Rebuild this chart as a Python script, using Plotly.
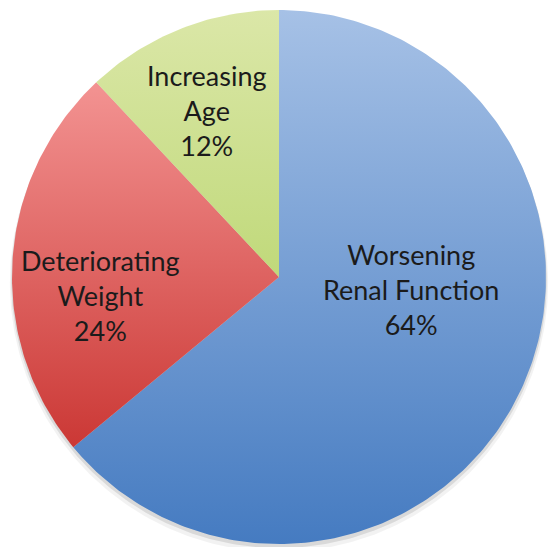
import numpy as np
import plotly.graph_objects as go

# Shares of the three contributing factors (percent), drawn clockwise from 12 o'clock
categories = ["Worsening<br>Renal Function", "Deteriorating<br>Weight", "Increasing<br>Age"]
shares = [64, 24, 12]

# Vertical gradient per slice: lighter at the top, deeper at the bottom
top_colors = ["#a6c1e6", "#f39392", "#dbe7a8"]
bottom_colors = ["#457bc1", "#cb3835", "#c0d97a"]

# Label centres in axis units (unit circle)
label_pos = [(0.494, -0.045), (-0.667, -0.068), (-0.270, 0.625)]

fig = go.Figure()

# soft drop shadow beneath the disc
for dy, r, a in [(-0.022, 1.008, 0.05), (-0.012, 1.003, 0.10)]:
    t = np.linspace(0, 2 * np.pi, 361)
    fig.add_trace(go.Scatter(
        x=r * np.sin(t), y=dy + r * np.cos(t), mode="lines",
        line=dict(width=0), fill="toself", fillcolor=f"rgba(0,0,0,{a})",
        hoverinfo="skip", showlegend=False))

total = float(sum(shares))
start = 0.0
for name, v, ct, cb in zip(categories, shares, top_colors, bottom_colors):
    a0 = start / total * 2 * np.pi
    a1 = (start + v) / total * 2 * np.pi
    start += v
    ang = np.linspace(a0, a1, max(int(v * 4), 8))
    xs = np.concatenate([[0.0], np.sin(ang), [0.0]])
    ys = np.concatenate([[0.0], np.cos(ang), [0.0]])
    fig.add_trace(go.Scatter(
        x=xs, y=ys, mode="lines", line=dict(width=0),
        fill="toself",
        fillgradient=dict(type="vertical",
                          colorscale=[[0, cb], [1, ct]],
                          start=float(ys.min()), stop=float(ys.max())),
        name=name.replace("<br>", " "), hoverinfo="name", showlegend=False))

for name, v, (lx, ly) in zip(categories, shares, label_pos):
    fig.add_annotation(x=lx, y=ly, text=f"{name}<br>{v}%", showarrow=False,
                       xanchor="center", yanchor="middle", align="center",
                       font=dict(family="Lato", size=27, color="#1b1b1b"))

# 267 px per unit on both axes keeps the disc round
fig.update_xaxes(range=[-279 / 267, (551 - 279) / 267], visible=False)
fig.update_yaxes(range=[-(547 - 277) / 267, 277 / 267], visible=False)
fig.update_layout(width=551, height=547, margin=dict(l=0, r=0, t=0, b=0),
                  paper_bgcolor="white", plot_bgcolor="white")

fig.write_html("out.html")
